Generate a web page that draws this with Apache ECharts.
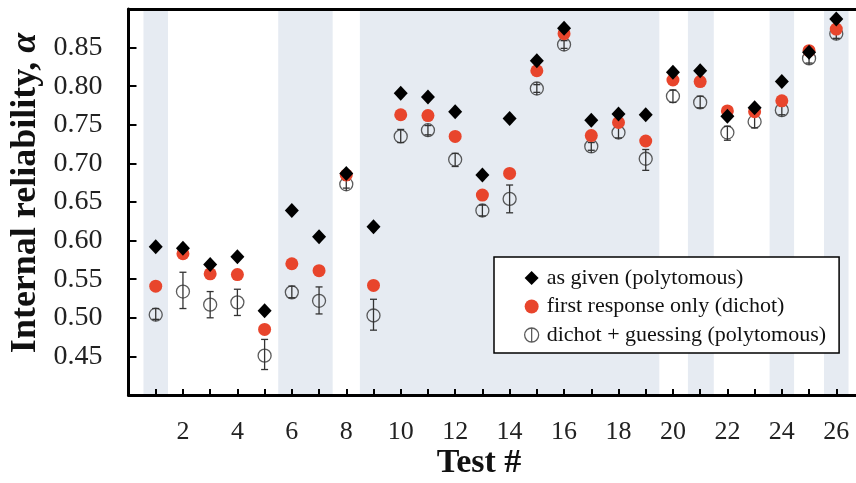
<!DOCTYPE html>
<html>
<head>
<meta charset="utf-8">
<script src="https://cdn.jsdelivr.net/npm/echarts@6/dist/echarts.min.js"></script>
<style>html,body{margin:0;padding:0;background:#fff;}#c{width:856px;height:483px;}</style>
</head>
<body>
<div id="c"></div>
<script>
const tests = [1,2,3,4,5,6,7,8,9,10,11,12,13,14,15,16,17,18,19,20,21,22,23,24,25,26];
const asGiven = [0.592,0.590,0.569,0.579,0.509,0.639,0.605,0.687,0.618,0.791,0.786,0.767,0.685,0.758,0.833,0.875,0.756,0.764,0.763,0.818,0.820,0.761,0.772,0.806,0.844,0.887];
const firstResp = [0.541,0.583,0.557,0.556,0.485,0.570,0.561,0.685,0.542,0.763,0.762,0.735,0.659,0.687,0.820,0.868,0.736,0.753,0.729,0.808,0.806,0.768,0.767,0.781,0.846,0.874];
const guessing = [0.504,0.534,0.517,0.520,0.451,0.533,0.522,0.673,0.503,0.735,0.743,0.705,0.639,0.654,0.797,0.854,0.722,0.740,0.706,0.787,0.779,0.740,0.754,0.769,0.836,0.868];
const guessLow = [0.498,0.512,0.500,0.503,0.433,0.526,0.505,0.668,0.484,0.727,0.737,0.696,0.632,0.636,0.792,0.849,0.717,0.733,0.691,0.779,0.772,0.730,0.746,0.763,0.830,0.862];
const guessHigh = [0.512,0.559,0.534,0.537,0.472,0.541,0.540,0.678,0.524,0.744,0.749,0.713,0.646,0.672,0.802,0.859,0.727,0.747,0.718,0.795,0.787,0.748,0.762,0.775,0.842,0.874];
const bands = [[0.55,1.45],[5.5,7.5],[8.5,19.5],[20.55,21.5],[23.55,24.45],[25.55,26.45]];
const xTickLabels = [2,4,6,8,10,12,14,16,18,20,22,24,26];
const yTickLabels = [0.45,0.50,0.55,0.60,0.65,0.70,0.75,0.80,0.85];
const names = ['as given (polytomous)','first response only (dichot)','dichot + guessing (polytomous)'];

const FONT = "'Liberation Serif','Times New Roman',serif";
const chart = echarts.init(document.getElementById('c'));
const pts = arr => tests.map((t,i)=>[t, arr[i]]);

chart.setOption({
  animation: false,
  grid: {left: 128.5, top: 9, width: 735, bottom: 88, outerBoundsMode: 'none', containLabel: false},
  xAxis: [{
    type: 'value', min: 0, max: 27, interval: 1, z: 5,
    axisLine: {show: true, lineStyle: {color: '#000', width: 3}},
    axisTick: {show: true, inside: true, length: 6, lineStyle: {color: '#000', width: 2}},
    axisLabel: {
      margin: 24, fontFamily: FONT, fontSize: 26, color: '#222',
      formatter: v => xTickLabels.indexOf(v) >= 0 ? String(v) : ''
    },
    splitLine: {show: false}
  }, {
    type: 'value', position: 'top', min: 0, max: 27, z: 5,
    axisLine: {show: true, onZero: false, lineStyle: {color: '#000', width: 3}},
    axisTick: {show: false}, axisLabel: {show: false}, splitLine: {show: false}
  }],
  yAxis: {
    type: 'value', min: 0.4, max: 0.9, interval: 0.05, z: 5,
    axisLine: {show: true, lineStyle: {color: '#000', width: 3}},
    axisTick: {show: true, inside: true, length: 8, lineStyle: {color: '#000', width: 2}},
    axisLabel: {
      margin: 26, fontFamily: FONT, fontSize: 28, color: '#222',
      formatter: v => yTickLabels.some(t => Math.abs(t - v) < 1e-6) ? v.toFixed(2) : ''
    },
    splitLine: {show: false}
  },
  legend: {
    orient: 'vertical', left: 494, top: 257,
    padding: [10, 13, 7, 30], itemGap: 6.5, itemWidth: 14, itemHeight: 14,
    backgroundColor: '#fff', borderColor: '#000', borderWidth: 1.5,
    textStyle: {fontFamily: FONT, fontSize: 22, color: '#111', lineHeight: 22, padding: [0,0,0,3]},
    data: [
      {name: names[0], icon: 'diamond'},
      {name: names[1], icon: 'circle'},
      {name: names[2], icon: 'path://M50,0A50,50 0 1,1 49.99,0ZM50,0L50,100', itemStyle: {color: 'transparent', borderColor: '#333', borderWidth: 1.3}}
    ]
  },
  graphic: [
    {type: 'text', x: 26, y: 193, rotation: Math.PI/2, z: 10,
     style: {text: 'Internal reliability, {a|α}', textAlign: 'center', textVerticalAlign: 'middle',
       fontFamily: FONT, fontSize: 36, fontWeight: 'bold', fill: '#111',
       rich: {a: {fontFamily: FONT, fontSize: 36, fontWeight: 'bold', fontStyle: 'italic', fill: '#111'}}}},
    {type: 'text', x: 479, y: 463, z: 10,
     style: {text: 'Test #', textAlign: 'center', textVerticalAlign: 'middle',
       fontFamily: FONT, fontSize: 34, fontWeight: 'bold', fill: '#111'}}
  ],
  series: [
    {
      type: 'custom', name: 'errorbars', z: 2, silent: true,
      data: tests.map((t,i)=>[t, guessing[i], guessLow[i], guessHigh[i]]),
      renderItem: function(params, api) {
        const c = api.coord([api.value(0), api.value(1)]);
        const lo = api.coord([api.value(0), api.value(2)]);
        const hi = api.coord([api.value(0), api.value(3)]);
        const r = 6.5, cw = 3.5;
        const top = Math.min(hi[1], c[1]-r), bot = Math.max(lo[1], c[1]+r);
        const st = {stroke: '#333', lineWidth: 1.3, fill: null};
        return {type: 'group', children: [
          {type: 'line', shape: {x1: c[0], y1: top, x2: c[0], y2: bot}, style: st},
          {type: 'line', shape: {x1: c[0]-cw, y1: hi[1], x2: c[0]+cw, y2: hi[1]}, style: st},
          {type: 'line', shape: {x1: c[0]-cw, y1: lo[1], x2: c[0]+cw, y2: lo[1]}, style: st}
        ]};
      },
      markArea: {
        silent: true,
        itemStyle: {color: '#e6ebf2'},
        data: bands.map(b => [{xAxis: b[0], yAxis: 0.4}, {xAxis: b[1], yAxis: 0.9}])
      }
    },
    {
      type: 'scatter', name: names[2], z: 3, symbol: 'circle', symbolSize: 13,
      itemStyle: {color: 'transparent', borderColor: '#333', borderWidth: 1.3},
      data: pts(guessing)
    },
    {
      type: 'scatter', name: names[1], z: 4, symbol: 'circle', symbolSize: 13,
      itemStyle: {color: '#e8452c', opacity: 1},
      data: pts(firstResp)
    },
    {
      type: 'scatter', name: names[0], z: 5, symbol: 'diamond', symbolSize: [14, 15],
      itemStyle: {color: '#000', opacity: 1},
      data: pts(asGiven)
    }
  ]
});
</script>
</body>
</html>
